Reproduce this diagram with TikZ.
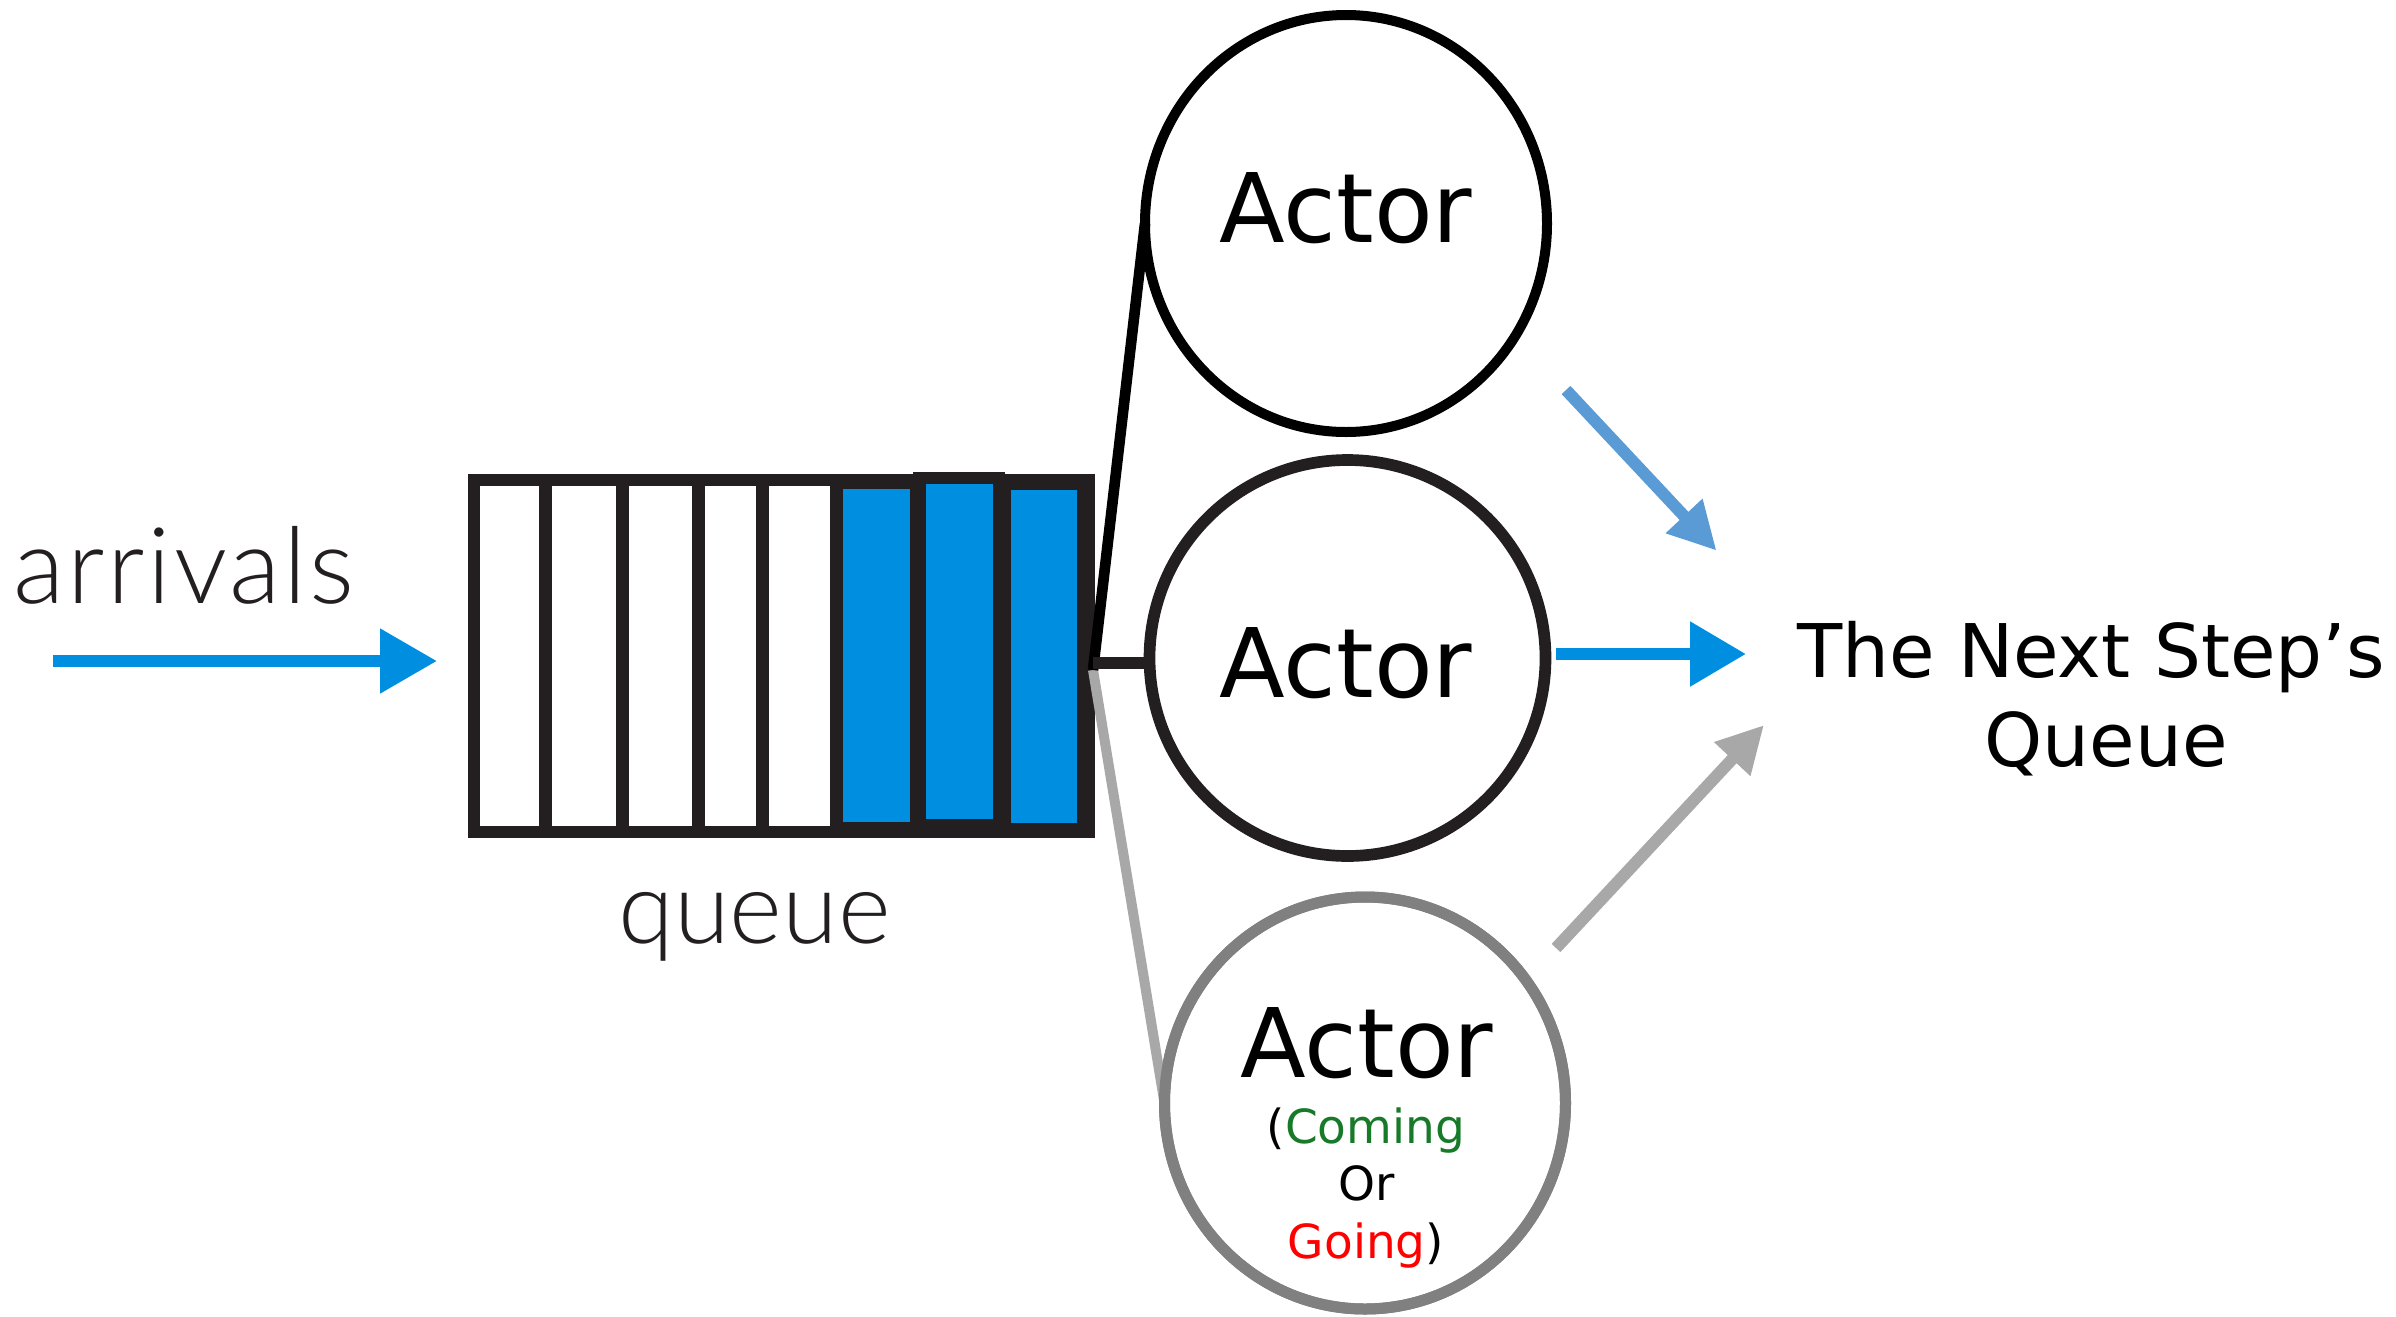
\documentclass[tikz,border=0pt]{standalone}
\usepackage{fontspec}
\setmainfont{DejaVu Sans}
\newfontfamily\humfont{Lato Light}
\newfontfamily\humwide{Lato Light}[LetterSpace=2.5]
\usetikzlibrary{arrows.meta,shapes.geometric}
\definecolor{qdark}{HTML}{231F20}
\definecolor{qblue}{HTML}{008EE0}
\definecolor{lblue}{HTML}{5B9BD5}
\definecolor{lgray}{HTML}{A8A8A8}
\definecolor{cgray}{HTML}{808080}
\definecolor{cgreen}{RGB}{22,122,40}
\definecolor{cred}{HTML}{FF0000}
\begin{document}
\begin{tikzpicture}[x=0.3pt,y=-0.3pt,
  actor/.style={ellipse, draw, inner sep=0pt, outer sep=0pt, fill=white},
  bigtxt/.style={anchor=base, inner sep=0pt, font=\fontsize{28.8pt}{34pt}\selectfont},
  smalltxt/.style={anchor=base, inner sep=0pt, font=\fontsize{14.1pt}{17pt}\selectfont},
  nexttxt/.style={anchor=base, inner sep=0pt, font=\fontsize{22.2pt}{26.7pt}\selectfont},
  humtxt/.style={inner sep=0pt, text=qdark},
  whitecell/.style={fill=white},
  bluecell/.style={fill=qblue},
  flow/.style={line width=3.6pt}
]
\useasboundingbox (0,0) rectangle (2396,1316);

% queue
\node[fill=qdark, inner sep=0pt, minimum width=188.13pt, minimum height=109.2pt] (queue) at (781.25,656) {};
\fill[qdark] (913,471.7) rectangle (1004.7,486);
\fill[whitecell] (479.5,486) rectangle (539.2,826);
\fill[whitecell] (551.9,486) rectangle (615.8,826);
\fill[whitecell] (628.9,486) rectangle (692,826);
\fill[whitecell] (704.6,486) rectangle (756,826);
\fill[whitecell] (768.6,486) rectangle (829.6,826);
\fill[bluecell] (843.1,488.5) rectangle (910.4,822);
\fill[bluecell] (926,484.2) rectangle (993,819.3);
\fill[bluecell] (1011.4,489.7) rectangle (1077.1,823);

% labels
\node[humtxt, anchor=base west, font=\humwide\fontsize{31.8pt}{36pt}\selectfont] (arrivals) at (13,603) {arrivals};
\node[humtxt, anchor=base, font=\humfont\fontsize{30.3pt}{36pt}\selectfont] (queuelbl) at (754.5,943) {queue};

% arrival arrow
\coordinate (arrS) at (53,661);
\coordinate (arrE) at (437,661);
\draw[qblue, line width=3.5pt, -{Triangle[length=17.1pt,width=18.6pt]}] (arrS) -- (arrE);

% actors
\node[actor, draw=black, line width=3pt, minimum width=120.6pt, minimum height=125.1pt] (top) at (1346,223.5) {};
\node[actor, draw=qdark, line width=3.5pt, minimum width=118.8pt, minimum height=118.8pt] (mid) at (1347.5,658) {};
\node[actor, draw=cgray, line width=3.3pt, minimum width=120.3pt, minimum height=123.6pt] (bot) at (1365,1103) {};

% connectors from the queue
\coordinate (J) at (1093,670);
\coordinate (J2) at (1093,663);
\draw[lgray, line width=3pt] (J) -- (bot.west);
\draw[black, line width=3.2pt] (J) -- (top.west);
\draw[qdark, line width=3.6pt] (J2) -- (J2 -| mid.west);
\draw[cgray, line width=3.3pt] (bot) ellipse [x radius=200.5, y radius=206];

% actor texts
\node[bigtxt] (t1) at (1346,242) {Actor};
\node[bigtxt] (t2) at (1346,697) {Actor};
\node[bigtxt] (t3) at (1367,1077) {Actor};
\node[smalltxt] (s1) at (1366,1143) {(\textcolor{cgreen}{Coming}};
\node[smalltxt] (s2) at (1367,1200) {Or};
\node[smalltxt] (s3) at (1366,1258) {\textcolor{cred}{Going})};

% output arrows
\coordinate (o1s) at (1566,390);
\coordinate (o1e) at (1716.6,550.7);
\coordinate (o2s) at (1556,654);
\coordinate (o2e) at (1746,654);
\coordinate (o3s) at (1556,948);
\coordinate (o3e) at (1764,725);
\draw[flow, lblue, -{Triangle[length=14.3pt,width=14.1pt]}] (o1s) -- (o1e);
\draw[flow, qblue, -{Triangle[length=16.8pt,width=18.6pt]}] (o2s) -- (o2e);
\draw[flow, lgray, -{Triangle[length=14pt,width=13.9pt]}] (o3s) -- (o3e);

% next step
\node[nexttxt] (n1) at (2091,677) {The Next Step’s};
\node[nexttxt] (n2) at (2106,766) {Queue};
\end{tikzpicture}
\end{document}
